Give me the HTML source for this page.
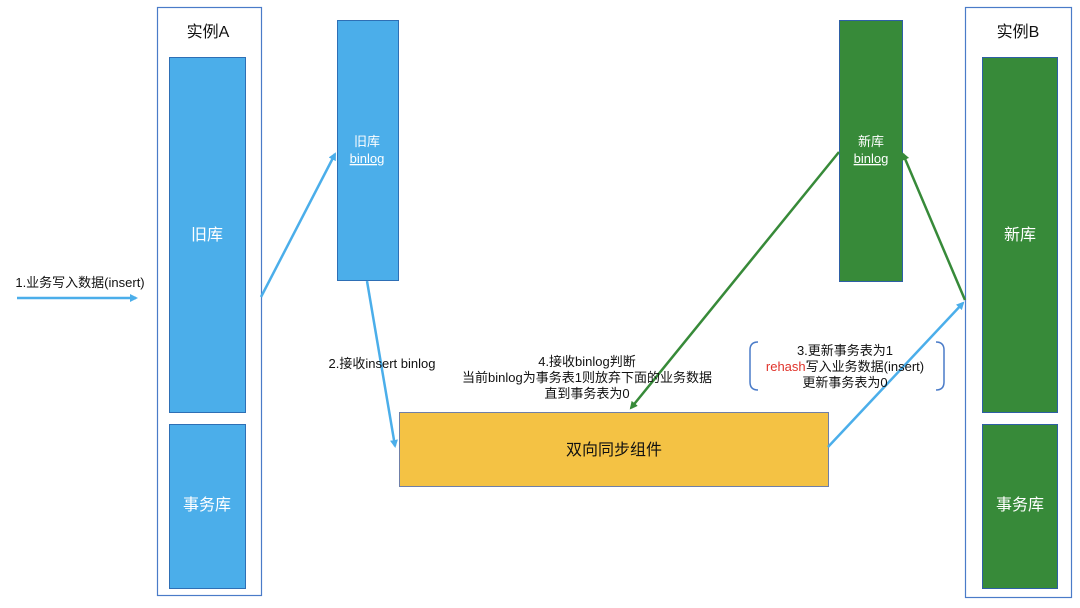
<!DOCTYPE html>
<html><head><meta charset="utf-8"><style>
html,body{margin:0;padding:0;background:#fff;}
svg{display:block;font-family:"Liberation Sans","Noto Sans CJK SC",sans-serif;}
</style></head><body>
<svg width="1080" height="608" viewBox="0 0 1080 608" xmlns="http://www.w3.org/2000/svg">
<defs>
<marker id="ab" markerWidth="8" markerHeight="8" refX="6" refY="4" orient="auto" markerUnits="userSpaceOnUse"><path d="M0,0 L8,4 L0,8 z" fill="#4BAEEA"/></marker>
<marker id="ag" markerWidth="8" markerHeight="8" refX="6" refY="4" orient="auto" markerUnits="userSpaceOnUse"><path d="M0,0 L8,4 L0,8 z" fill="#378A39"/></marker>
</defs>
<rect x="0" y="0" width="1080" height="608" fill="#fff"/>
<!-- Instance A -->
<rect x="157.5" y="7.5" width="104" height="588" fill="#fff" stroke="#4A7BC8" stroke-width="1.2"/>
<text x="208" y="37" font-size="16" text-anchor="middle" fill="#111">实例A</text>
<rect x="169.5" y="57.5" width="76" height="355" fill="#4BAEEA" stroke="#2E6FB5"/>
<text x="207" y="240" font-size="16" text-anchor="middle" fill="#fff">旧库</text>
<rect x="169.5" y="424.5" width="76" height="164" fill="#4BAEEA" stroke="#2E6FB5"/>
<text x="207" y="510" font-size="16" text-anchor="middle" fill="#fff">事务库</text>
<!-- old binlog -->
<rect x="337.5" y="20.5" width="61" height="260" fill="#4BAEEA" stroke="#2E6FB5"/>
<text x="367" y="146" font-size="13" text-anchor="middle" fill="#fff">旧库</text>
<text x="367" y="163" font-size="13" text-anchor="middle" fill="#fff" text-decoration="underline">binlog</text>
<!-- Instance B -->
<rect x="965.5" y="7.5" width="106" height="590" fill="#fff" stroke="#4A7BC8" stroke-width="1.2"/>
<text x="1018" y="37" font-size="16" text-anchor="middle" fill="#111">实例B</text>
<rect x="982.5" y="57.5" width="75" height="355" fill="#378A39" stroke="#2E5FA5"/>
<text x="1020" y="240" font-size="16" text-anchor="middle" fill="#fff">新库</text>
<rect x="982.5" y="424.5" width="75" height="164" fill="#378A39" stroke="#2E5FA5"/>
<text x="1020" y="510" font-size="16" text-anchor="middle" fill="#fff">事务库</text>
<!-- new binlog -->
<rect x="839.5" y="20.5" width="63" height="261" fill="#378A39" stroke="#2E5FA5"/>
<text x="871" y="146" font-size="13" text-anchor="middle" fill="#fff">新库</text>
<text x="871" y="163" font-size="13" text-anchor="middle" fill="#fff" text-decoration="underline">binlog</text>
<!-- yellow -->
<rect x="399.5" y="412.5" width="429" height="74" fill="#F4C244" stroke="#6F7FA8"/>
<text x="614" y="455" font-size="16" text-anchor="middle" fill="#111">双向同步组件</text>
<!-- arrows -->
<line x1="17" y1="298" x2="136" y2="298" stroke="#4BAEEA" stroke-width="2.5" marker-end="url(#ab)"/>
<text x="80" y="287" font-size="13" text-anchor="middle" fill="#111">1.业务写入数据(insert)</text>
<line x1="261" y1="297" x2="335" y2="154" stroke="#4BAEEA" stroke-width="2.5" marker-end="url(#ab)"/>
<line x1="367" y1="281" x2="395" y2="446" stroke="#4BAEEA" stroke-width="2.5" marker-end="url(#ab)"/>
<line x1="839" y1="152" x2="631" y2="408" stroke="#378A39" stroke-width="2.5" marker-end="url(#ag)"/>
<line x1="965" y1="300" x2="903" y2="154" stroke="#378A39" stroke-width="2.5" marker-end="url(#ag)"/>
<line x1="828" y1="447" x2="963" y2="303" stroke="#4BAEEA" stroke-width="2.5" marker-end="url(#ab)"/>
<!-- labels -->
<text x="382" y="368" font-size="13" text-anchor="middle" fill="#111">2.接收insert binlog</text>
<text x="587" y="366" font-size="13" text-anchor="middle" fill="#111">4.接收binlog判断</text>
<text x="587" y="382" font-size="13" text-anchor="middle" fill="#111">当前binlog为事务表1则放弃下面的业务数据</text>
<text x="587" y="398" font-size="13" text-anchor="middle" fill="#111">直到事务表为0</text>
<text x="845" y="355" font-size="13" text-anchor="middle" fill="#111">3.更新事务表为1</text>
<text x="845" y="371" font-size="13" text-anchor="middle" fill="#111"><tspan fill="#E0332B">rehash</tspan>写入业务数据(insert)</text>
<text x="845" y="387" font-size="13" text-anchor="middle" fill="#111">更新事务表为0</text>
<path d="M758,342 Q750,342 750,350 L750,382 Q750,390 758,390" fill="none" stroke="#4A7BC8" stroke-width="1.5"/>
<path d="M936,342 Q944,342 944,350 L944,382 Q944,390 936,390" fill="none" stroke="#4A7BC8" stroke-width="1.5"/>
</svg>
</body></html>
